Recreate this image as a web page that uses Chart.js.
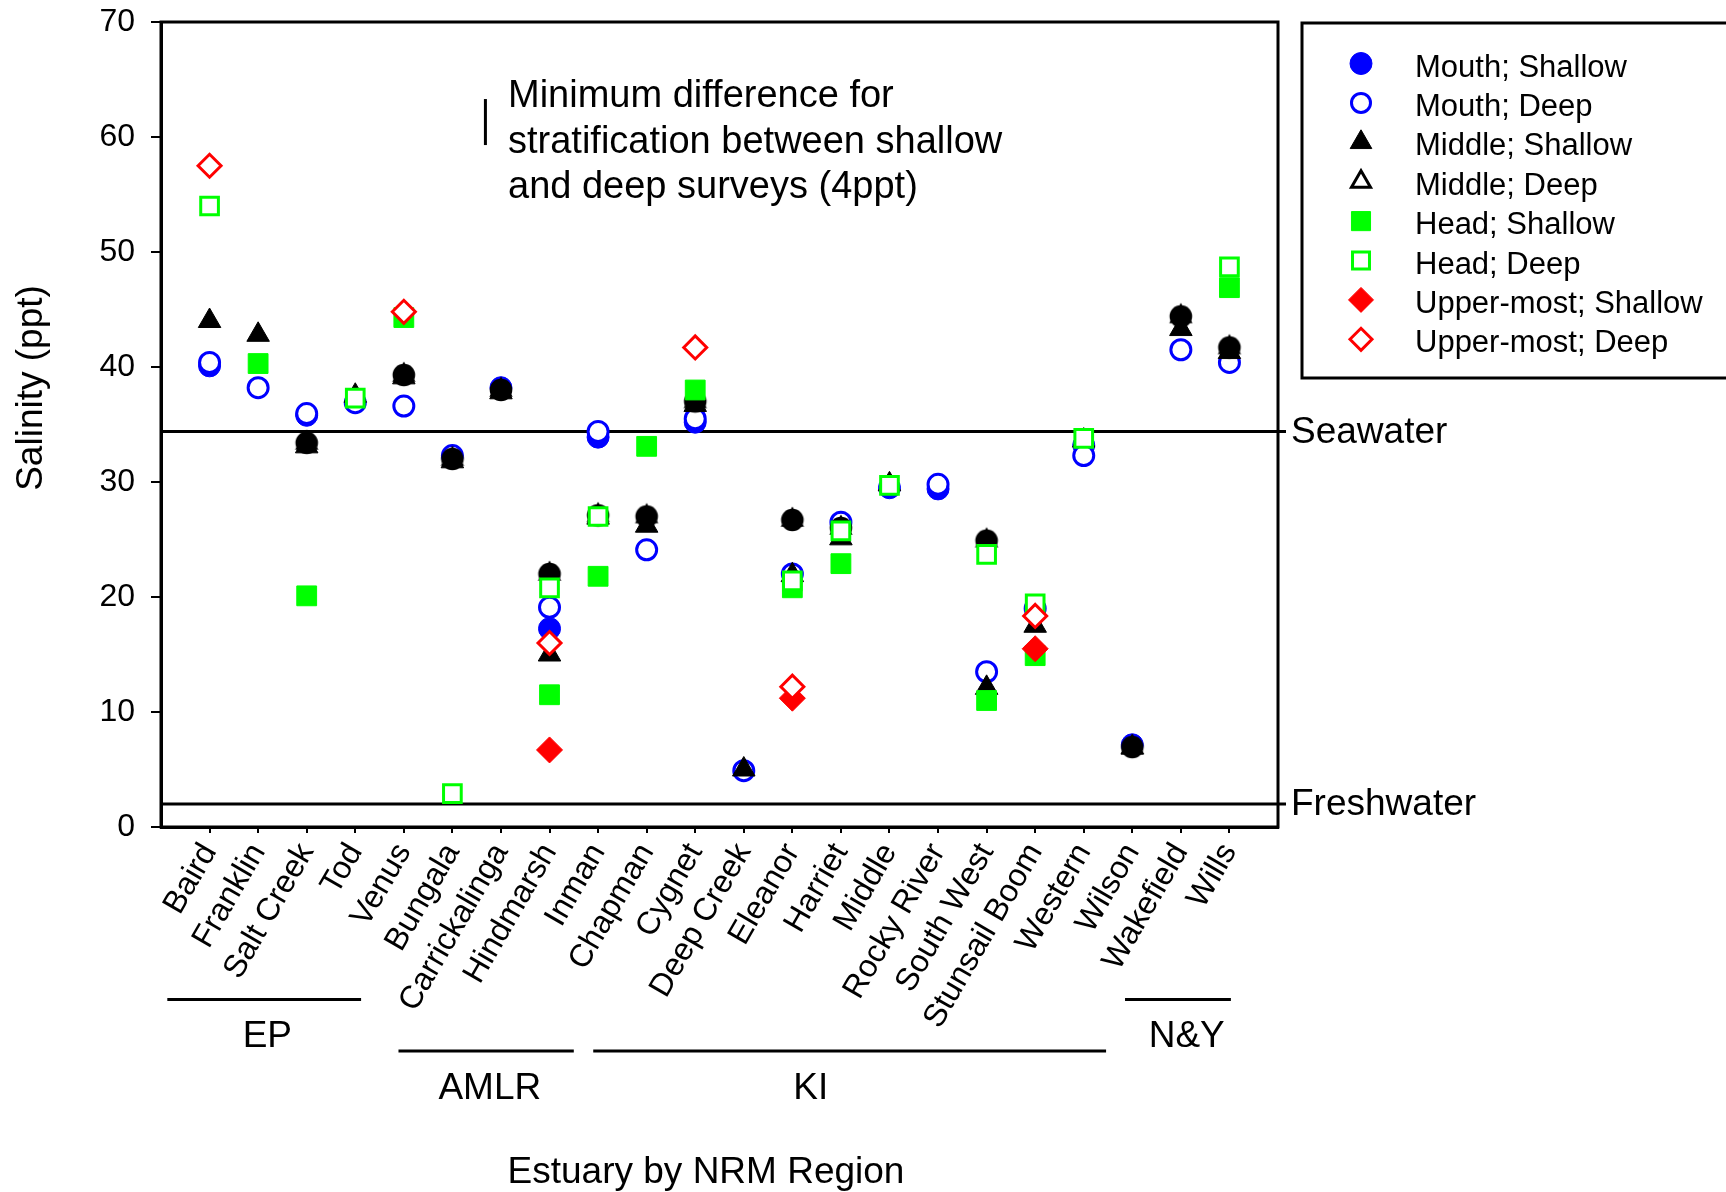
<!DOCTYPE html>
<html><head><meta charset="utf-8">
<script src="https://cdn.jsdelivr.net/npm/chart.js@4.4.0/dist/chart.umd.min.js"></script>
<style>html,body{margin:0;padding:0;background:#fff;}canvas{display:block;}</style>
</head><body>
<canvas id="c" width="1726" height="1192"></canvas>
<script>
// ---------------- data ----------------
const categories = ["Baird","Franklin","Salt Creek","Tod","Venus","Bungala","Carrickalinga","Hindmarsh","Inman","Chapman","Cygnet","Deep Creek","Eleanor","Harriet","Middle","Rocky River","South West","Stunsail Boom","Western","Wilson","Wakefield","Wills"];
const mouthShallow  = [40.1,null,35.8,null,null,null,38.2,17.25,33.9,null,35.2,null,null,null,29.5,29.4,null,null,33.2,7.15,null,null];
const mouthDeep     = [40.4,38.2,35.95,36.9,36.6,32.3,null,19.1,34.4,24.1,35.5,4.9,22.0,26.5,null,29.8,13.5,19.0,32.3,null,41.5,40.4];
const middleShallow = [44.0,42.8,33.1,37.5,39.1,31.8,37.8,15.0,26.9,26.2,36.7,5.0,21.9,25.1,29.8,null,12.1,17.5,33.6,6.9,43.3,41.3];
const middleDeep    = [null,null,33.4,null,39.3,32.0,38.0,22.0,27.1,27.0,37.0,null,26.7,26.0,null,null,24.9,null,null,6.95,44.4,41.7];
const headShallow   = [null,40.3,20.1,null,44.3,null,null,11.5,21.8,33.1,38.0,null,20.8,22.9,null,null,11.0,14.9,null,null,null,46.9];
const headDeep      = [54.0,null,null,37.3,null,2.9,null,20.8,27.0,null,null,null,21.4,25.75,29.7,null,23.7,19.4,33.8,null,null,48.7];
const upperShallow  = [null,null,null,null,null,null,null,6.7,null,null,null,null,11.2,null,null,null,null,15.5,null,null,null,null];
const upperDeep     = [57.5,null,null,null,44.8,null,null,16.0,null,null,41.7,null,12.2,null,null,null,null,18.35,null,null,null,null];
const yTicks = [0,10,20,30,40,50,60,70];
const seawater = 34.4;
const freshwater = 2;
const minDiff = 4;          // ppt
const regionNames = ["EP","AMLR","KI","N&Y"];
const regionSpans = [[0.13,4.12],[4.89,8.5],[8.9,19.46],[19.85,22.03]];
const regionLabelAt = [2.19,6.77,13.38,21.12];
const regionRows  = [0,1,1,0];
const noteLines = ["Minimum difference for","stratification between shallow","and deep surveys (4ppt)"];

// ---------------- styles ----------------
const FONT = "'Liberation Sans', Arial, sans-serif";
const BLUE = '#0000ff', GREEN = '#00ff00', RED = '#ff0000', BLACK = '#000000';

function middleDeepSymbol(){
  const c = document.createElement('canvas'); c.width = 32; c.height = 32;
  const g = c.getContext('2d'); g.fillStyle = BLACK;
  const cx = 16, cy = 16, r = 13.5;
  g.beginPath();
  for (let k = 0; k < 3; k++) {
    const a = k * 2 * Math.PI / 3;
    const px = cx + Math.sin(a) * r, py = cy - Math.cos(a) * r;
    if (k === 0) g.moveTo(px, py); else g.lineTo(px, py);
  }
  g.closePath(); g.fill();
  g.beginPath(); g.arc(cx, cy, 11.3, 0, 2 * Math.PI); g.fill();
  return c;
}

const pts = arr => arr.map((v, i) => v == null ? null : {x: i + 1, y: v}).filter(Boolean);

const datasets = [
  {label:'Mouth; Shallow', data:pts(mouthShallow), pointStyle:'circle', pointRadius:11, backgroundColor:BLUE, borderColor:BLUE, borderWidth:1, order:8, lg:{shape:'circle', fill:BLUE, stroke:BLUE, r:11, lw:1}},
  {label:'Mouth; Deep', data:pts(mouthDeep), pointStyle:'circle', pointRadius:10, backgroundColor:'#fff', borderColor:BLUE, borderWidth:3, order:7, lg:{shape:'circle', fill:'#fff', stroke:BLUE, r:9.5, lw:3}},
  {label:'Middle; Shallow', data:pts(middleShallow), pointStyle:'triangle', pointRadius:13, backgroundColor:BLACK, borderColor:BLACK, borderWidth:1, order:6, lg:{shape:'triangle', fill:BLACK, stroke:BLACK, r:12.5, lw:1}},
  {label:'Middle; Deep', data:pts(middleDeep), pointStyle:middleDeepSymbol(), pointRadius:13, backgroundColor:BLACK, borderColor:BLACK, borderWidth:0, order:5, lg:{shape:'triangle', fill:'#fff', stroke:BLACK, r:11, lw:3}},
  {label:'Head; Shallow', data:pts(headShallow), pointStyle:'rect', pointRadius:14, backgroundColor:GREEN, borderColor:GREEN, borderWidth:1, order:4, lg:{shape:'rect', fill:GREEN, stroke:GREEN, r:13.5, lw:1}},
  {label:'Head; Deep', data:pts(headDeep), pointStyle:'rect', pointRadius:12.5, backgroundColor:'#fff', borderColor:GREEN, borderWidth:3, order:3, lg:{shape:'rect', fill:'#fff', stroke:GREEN, r:12, lw:3}},
  {label:'Upper-most; Shallow', data:pts(upperShallow), pointStyle:'rectRot', pointRadius:13, backgroundColor:RED, borderColor:RED, borderWidth:1, order:2, lg:{shape:'rectRot', fill:RED, stroke:RED, r:12.5, lw:1}},
  {label:'Upper-most; Deep', data:pts(upperDeep), pointStyle:'rectRot', pointRadius:11.5, backgroundColor:'#fff', borderColor:RED, borderWidth:3, order:1, lg:{shape:'rectRot', fill:'#fff', stroke:RED, r:11, lw:3}}
];

function shapePath(g, shape, x, y, r){
  g.beginPath();
  if (shape === 'circle') g.arc(x, y, r, 0, 2 * Math.PI);
  else if (shape === 'triangle') {
    for (let k = 0; k < 3; k++) { const a = k * 2 * Math.PI / 3; const px = x + Math.sin(a) * r, py = y - Math.cos(a) * r; k ? g.lineTo(px, py) : g.moveTo(px, py); }
    g.closePath();
  } else if (shape === 'rect') { const s = r * Math.SQRT1_2; g.rect(x - s, y - s, 2 * s, 2 * s); }
  else if (shape === 'rectRot') { g.moveTo(x - r, y); g.lineTo(x, y - r); g.lineTo(x + r, y); g.lineTo(x, y + r); g.closePath(); }
}

const decor = {
  id: 'decor',
  beforeDatasetsDraw(chart){
    const {ctx, chartArea: a, scales: {y}} = chart;
    ctx.save(); ctx.strokeStyle = BLACK; ctx.lineWidth = 3;
    [seawater, freshwater].forEach(v => { const py = y.getPixelForValue(v); ctx.beginPath(); ctx.moveTo(a.left, py); ctx.lineTo(a.right + 8, py); ctx.stroke(); });
    ctx.restore();
  },
  afterDraw(chart){
    const {ctx, chartArea: a, scales: {x, y}} = chart;
    ctx.save();
    // frame
    ctx.strokeStyle = BLACK; ctx.lineWidth = 3;
    ctx.strokeRect(a.left, a.top, a.right - a.left, a.bottom - a.top);
    // line labels
    ctx.fillStyle = BLACK; ctx.font = '37px ' + FONT; ctx.textBaseline = 'middle'; ctx.textAlign = 'left';
    ctx.fillText('Seawater', a.right + 13, y.getPixelForValue(seawater) + 1);
    ctx.fillText('Freshwater', a.right + 13, y.getPixelForValue(freshwater) + 1);
    // 4 ppt bar and note
    const bx = x.getPixelForValue(6.68);
    ctx.lineWidth = 3; ctx.beginPath();
    ctx.moveTo(bx, y.getPixelForValue(59.3)); ctx.lineTo(bx, y.getPixelForValue(59.3 + minDiff)); ctx.stroke();
    ctx.font = '38px ' + FONT; ctx.textBaseline = 'alphabetic';
    noteLines.forEach((t, i) => ctx.fillText(t, 508, 107 + i * 45.5));
    // regions
    ctx.font = '37px ' + FONT;
    ctx.lineWidth = 3; ctx.textAlign = 'center'; ctx.textBaseline = 'middle';
    regionNames.forEach((n, i) => {
      const x0 = x.getPixelForValue(regionSpans[i][0]), x1 = x.getPixelForValue(regionSpans[i][1]);
      const ly = regionRows[i] ? 1051 : 999.5;
      ctx.beginPath(); ctx.moveTo(x0, ly); ctx.lineTo(x1, ly); ctx.stroke();
      ctx.fillText(n, x.getPixelForValue(regionLabelAt[i]), ly + (regionRows[i] ? 38 : 37));
    });
    // axis titles
    ctx.fillText('Estuary by NRM Region', 706, 1173);
    ctx.save(); ctx.translate(32, 388); ctx.rotate(-Math.PI / 2); ctx.fillText('Salinity (ppt)', 0, 0); ctx.restore();
    // legend
    const lx = a.right + 24;
    ctx.lineWidth = 3; ctx.strokeRect(lx, 23, 600, 355);
    ctx.font = '31px ' + FONT; ctx.textAlign = 'left'; ctx.textBaseline = 'alphabetic';
    chart.data.datasets.forEach((d, i) => {
      const cy = 63.5 + i * 39.4, s = d.lg;
      shapePath(ctx, s.shape, lx + 59, cy, s.r);
      ctx.fillStyle = s.fill; ctx.fill(); ctx.lineWidth = s.lw; ctx.strokeStyle = s.stroke; ctx.stroke();
      ctx.fillStyle = BLACK; ctx.fillText(d.label, lx + 113, cy + 13);
    });
    ctx.restore();
  }
};

new Chart(document.getElementById('c'), {
  type: 'scatter',
  data: { datasets },
  options: {
    responsive: false, animation: false, devicePixelRatio: 1, events: [],
    layout: { padding: { left: 0, top: 22, right: 448, bottom: 0 } },
    plugins: { legend: { display: false }, tooltip: { enabled: false } },
    scales: {
      x: {
        type: 'linear', min: 0, max: 23,
        afterBuildTicks: s => { s.ticks = categories.map((c, i) => ({ value: i + 1 })); },
        afterFit: s => { s.height = 365; s.paddingLeft = 0; s.paddingRight = 0; },
        ticks: { autoSkip: false, minRotation: 60, maxRotation: 60, color: BLACK, padding: 4,
                 font: { family: FONT, size: 32 }, callback: v => categories[v - 1] || '' },
        grid: { drawOnChartArea: false, drawTicks: true, tickLength: 6, color: BLACK, lineWidth: 2 },
        border: { display: true, color: BLACK, width: 3 }
      },
      y: {
        min: 0, max: 70,
        afterBuildTicks: s => { s.ticks = yTicks.map(v => ({ value: v })); },
        afterFit: s => { s.width = 161; s.paddingTop = 0; s.paddingBottom = 0; },
        ticks: { color: BLACK, padding: 16, font: { family: FONT, size: 32 } },
        grid: { drawOnChartArea: false, drawTicks: true, tickLength: 10, color: BLACK, lineWidth: 2 },
        border: { display: true, color: BLACK, width: 3 }
      }
    }
  },
  plugins: [decor]
});
</script>
</body></html>
